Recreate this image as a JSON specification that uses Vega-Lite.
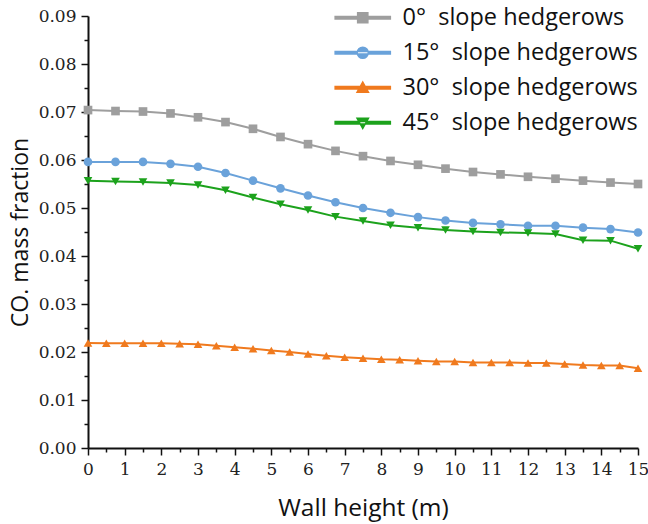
{
  "$schema": "https://vega.github.io/schema/vega-lite/v6.json",
  "width": 550,
  "height": 432,
  "autosize": {"type": "none"},
  "padding": {"left": 88, "top": 16, "right": 10, "bottom": 76},
  "background": "white",
  "config": {
    "view": {"stroke": null},
    "axis": {
      "domainColor": "#111",
      "domainWidth": 2,
      "tickColor": "#111",
      "tickWidth": 1.5,
      "grid": false,
      "labelFont": "DejaVu Serif",
      "labelFontSize": 17,
      "labelColor": "#222",
      "titleFont": "Open Sans",
      "titleFontSize": 23,
      "titleFontWeight": "normal",
      "titleColor": "#111"
    }
  },
  "data": {
    "values": [
      {"h": 0, "v": 0.0704, "s": "0° slope hedgerows"},
      {"h": 0.75, "v": 0.0702, "s": "0° slope hedgerows"},
      {"h": 1.5, "v": 0.0701, "s": "0° slope hedgerows"},
      {"h": 2.25, "v": 0.0697, "s": "0° slope hedgerows"},
      {"h": 3, "v": 0.0689, "s": "0° slope hedgerows"},
      {"h": 3.75, "v": 0.0679, "s": "0° slope hedgerows"},
      {"h": 4.5, "v": 0.0665, "s": "0° slope hedgerows"},
      {"h": 5.25, "v": 0.0648, "s": "0° slope hedgerows"},
      {"h": 6, "v": 0.0633, "s": "0° slope hedgerows"},
      {"h": 6.75, "v": 0.0619, "s": "0° slope hedgerows"},
      {"h": 7.5, "v": 0.0608, "s": "0° slope hedgerows"},
      {"h": 8.25, "v": 0.0598, "s": "0° slope hedgerows"},
      {"h": 9, "v": 0.0590, "s": "0° slope hedgerows"},
      {"h": 9.75, "v": 0.0582, "s": "0° slope hedgerows"},
      {"h": 10.5, "v": 0.0575, "s": "0° slope hedgerows"},
      {"h": 11.25, "v": 0.0570, "s": "0° slope hedgerows"},
      {"h": 12, "v": 0.0565, "s": "0° slope hedgerows"},
      {"h": 12.75, "v": 0.0561, "s": "0° slope hedgerows"},
      {"h": 13.5, "v": 0.0557, "s": "0° slope hedgerows"},
      {"h": 14.25, "v": 0.0553, "s": "0° slope hedgerows"},
      {"h": 15, "v": 0.0550, "s": "0° slope hedgerows"},

      {"h": 0, "v": 0.0596, "s": "15° slope hedgerows"},
      {"h": 0.75, "v": 0.0596, "s": "15° slope hedgerows"},
      {"h": 1.5, "v": 0.0596, "s": "15° slope hedgerows"},
      {"h": 2.25, "v": 0.0592, "s": "15° slope hedgerows"},
      {"h": 3, "v": 0.0586, "s": "15° slope hedgerows"},
      {"h": 3.75, "v": 0.0573, "s": "15° slope hedgerows"},
      {"h": 4.5, "v": 0.0557, "s": "15° slope hedgerows"},
      {"h": 5.25, "v": 0.0541, "s": "15° slope hedgerows"},
      {"h": 6, "v": 0.0526, "s": "15° slope hedgerows"},
      {"h": 6.75, "v": 0.0512, "s": "15° slope hedgerows"},
      {"h": 7.5, "v": 0.0500, "s": "15° slope hedgerows"},
      {"h": 8.25, "v": 0.0490, "s": "15° slope hedgerows"},
      {"h": 9, "v": 0.0481, "s": "15° slope hedgerows"},
      {"h": 9.75, "v": 0.0474, "s": "15° slope hedgerows"},
      {"h": 10.5, "v": 0.0469, "s": "15° slope hedgerows"},
      {"h": 11.25, "v": 0.0466, "s": "15° slope hedgerows"},
      {"h": 12, "v": 0.0463, "s": "15° slope hedgerows"},
      {"h": 12.75, "v": 0.0463, "s": "15° slope hedgerows"},
      {"h": 13.5, "v": 0.0459, "s": "15° slope hedgerows"},
      {"h": 14.25, "v": 0.0456, "s": "15° slope hedgerows"},
      {"h": 15, "v": 0.0449, "s": "15° slope hedgerows"},

      {"h": 0, "v": 0.0219, "s": "30° slope hedgerows"},
      {"h": 0.5, "v": 0.0218, "s": "30° slope hedgerows"},
      {"h": 1, "v": 0.0218, "s": "30° slope hedgerows"},
      {"h": 1.5, "v": 0.0218, "s": "30° slope hedgerows"},
      {"h": 2, "v": 0.0218, "s": "30° slope hedgerows"},
      {"h": 2.5, "v": 0.0217, "s": "30° slope hedgerows"},
      {"h": 3, "v": 0.0216, "s": "30° slope hedgerows"},
      {"h": 3.5, "v": 0.0213, "s": "30° slope hedgerows"},
      {"h": 4, "v": 0.0210, "s": "30° slope hedgerows"},
      {"h": 4.5, "v": 0.0207, "s": "30° slope hedgerows"},
      {"h": 5, "v": 0.0203, "s": "30° slope hedgerows"},
      {"h": 5.5, "v": 0.0200, "s": "30° slope hedgerows"},
      {"h": 6, "v": 0.0196, "s": "30° slope hedgerows"},
      {"h": 6.5, "v": 0.0192, "s": "30° slope hedgerows"},
      {"h": 7, "v": 0.0189, "s": "30° slope hedgerows"},
      {"h": 7.5, "v": 0.0187, "s": "30° slope hedgerows"},
      {"h": 8, "v": 0.0185, "s": "30° slope hedgerows"},
      {"h": 8.5, "v": 0.0184, "s": "30° slope hedgerows"},
      {"h": 9, "v": 0.0182, "s": "30° slope hedgerows"},
      {"h": 9.5, "v": 0.0180, "s": "30° slope hedgerows"},
      {"h": 10, "v": 0.0180, "s": "30° slope hedgerows"},
      {"h": 10.5, "v": 0.0178, "s": "30° slope hedgerows"},
      {"h": 11, "v": 0.0178, "s": "30° slope hedgerows"},
      {"h": 11.5, "v": 0.0178, "s": "30° slope hedgerows"},
      {"h": 12, "v": 0.0177, "s": "30° slope hedgerows"},
      {"h": 12.5, "v": 0.0177, "s": "30° slope hedgerows"},
      {"h": 13, "v": 0.0175, "s": "30° slope hedgerows"},
      {"h": 13.5, "v": 0.0173, "s": "30° slope hedgerows"},
      {"h": 14, "v": 0.0172, "s": "30° slope hedgerows"},
      {"h": 14.5, "v": 0.0172, "s": "30° slope hedgerows"},
      {"h": 15, "v": 0.0166, "s": "30° slope hedgerows"},

      {"h": 0, "v": 0.0557, "s": "45° slope hedgerows"},
      {"h": 0.75, "v": 0.0555, "s": "45° slope hedgerows"},
      {"h": 1.5, "v": 0.0554, "s": "45° slope hedgerows"},
      {"h": 2.25, "v": 0.0552, "s": "45° slope hedgerows"},
      {"h": 3, "v": 0.0548, "s": "45° slope hedgerows"},
      {"h": 3.75, "v": 0.0537, "s": "45° slope hedgerows"},
      {"h": 4.5, "v": 0.0522, "s": "45° slope hedgerows"},
      {"h": 5.25, "v": 0.0508, "s": "45° slope hedgerows"},
      {"h": 6, "v": 0.0496, "s": "45° slope hedgerows"},
      {"h": 6.75, "v": 0.0482, "s": "45° slope hedgerows"},
      {"h": 7.5, "v": 0.0473, "s": "45° slope hedgerows"},
      {"h": 8.25, "v": 0.0464, "s": "45° slope hedgerows"},
      {"h": 9, "v": 0.0459, "s": "45° slope hedgerows"},
      {"h": 9.75, "v": 0.0454, "s": "45° slope hedgerows"},
      {"h": 10.5, "v": 0.0451, "s": "45° slope hedgerows"},
      {"h": 11.25, "v": 0.0449, "s": "45° slope hedgerows"},
      {"h": 12, "v": 0.0448, "s": "45° slope hedgerows"},
      {"h": 12.75, "v": 0.0446, "s": "45° slope hedgerows"},
      {"h": 13.5, "v": 0.0433, "s": "45° slope hedgerows"},
      {"h": 14.25, "v": 0.0432, "s": "45° slope hedgerows"},
      {"h": 15, "v": 0.0415, "s": "45° slope hedgerows"}
    ]
  },
  "encoding": {
    "x": {
      "field": "h",
      "type": "quantitative",
      "scale": {"domain": [0, 15], "nice": false, "zero": false},
      "axis": {
        "title": "Wall height (m)",
        "titleFontSize": 24.5,
        "values": [0,0.5,1,1.5,2,2.5,3,3.5,4,4.5,5,5.5,6,6.5,7,7.5,8,8.5,9,9.5,10,10.5,11,11.5,12,12.5,13,13.5,14,14.5,15],
        "labelExpr": "datum.value % 1 === 0 ? format(datum.value, 'd') : ''",
        "tickSize": {"condition": {"test": "datum.value % 1 !== 0", "value": 4}, "value": 7},
        "labelPadding": 6,
        "labelFlush": false,
        "labelOverlap": false,
        "titlePadding": 19
      }
    },
    "y": {
      "field": "v",
      "type": "quantitative",
      "scale": {"domain": [0, 0.09], "nice": false},
      "axis": {
        "title": "CO. mass fraction",
        "values": [0,0.005,0.01,0.015,0.02,0.025,0.03,0.035,0.04,0.045,0.05,0.055,0.06,0.065,0.07,0.075,0.08,0.085,0.09],
        "labelExpr": "round(datum.value * 1000) % 10 === 0 ? format(datum.value, '.2f') : ''",
        "tickSize": {"condition": {"test": "round(datum.value * 1000) % 10 !== 0", "value": 4}, "value": 7},
        "labelPadding": 5,
        "labelFlush": false,
        "labelOverlap": false,
        "titlePadding": 6
      }
    },
    "color": {
      "field": "s",
      "type": "nominal",
      "scale": {
        "domain": ["0° slope hedgerows", "15° slope hedgerows", "30° slope hedgerows", "45° slope hedgerows"],
        "range": ["#9e9e9e", "#6aa2da", "#f07a1e", "#1ca21c"]
      },
      "legend": {
        "title": null,
        "orient": "none",
        "legendX": 263,
        "legendY": -10,
        "symbolSize": 144,
        "labelFont": "Open Sans",
        "labelFontSize": 23.5,
        "labelColor": "#111",
        "labelOffset": 28,
        "rowPadding": 10,
        "labelLimit": 400,
        "labelExpr": "datum.label === '0° slope hedgerows' ? '\u00a0\u00a00°\u00a0 slope hedgerows' : replace(datum.label, '° ', '°\u00a0 ')",
        "encode": {
          "symbols": {
            "update": {
              "shape": {"signal": "datum.value === '0° slope hedgerows' ? 'M-4.6,-0.2H4.6V0.2H-4.6ZM-0.85,-0.85H0.85V0.85H-0.85Z' : datum.value === '15° slope hedgerows' ? 'M-4.6,-0.2H4.6V0.2H-4.6ZM-0.92,0A0.92,0.92 0 1,0 0.92,0A0.92,0.92 0 1,0 -0.92,0Z' : datum.value === '30° slope hedgerows' ? 'M-4.6,-0.2H4.6V0.2H-4.6ZM0,-0.95L0.95,0.75L-0.95,0.75Z' : 'M-4.6,-0.2H4.6V0.2H-4.6ZM0,0.95L0.95,-0.75L-0.95,-0.75Z'"},
              "fill": {"scale": "color", "field": "value"},
              "stroke": {"value": "transparent"},
              "fillOpacity": {"value": 1},
              "opacity": {"value": 1}
            }
          }
        }
      }
    }
  },
  "layer": [
    {"mark": {"type": "line", "strokeWidth": 2}},
    {
      "mark": {"type": "point", "filled": true, "opacity": 1, "size": 75},
      "encoding": {
        "shape": {
          "condition": [
            {"test": "datum.s === '15° slope hedgerows'", "value": "circle"},
            {"test": "datum.s === '30° slope hedgerows'", "value": "triangle-up"},
            {"test": "datum.s === '45° slope hedgerows'", "value": "triangle-down"}
          ],
          "value": "square"
        }
      }
    }
  ]
}
